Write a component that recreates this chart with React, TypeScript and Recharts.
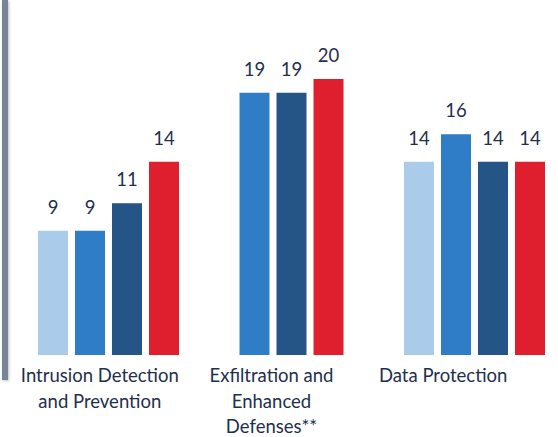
import React from 'react';
import { BarChart, Bar, XAxis, YAxis, Rectangle } from 'recharts';

const CATEGORIES = [
  'Intrusion Detection\nand Prevention',
  'Exfiltration and\nEnhanced\nDefenses**',
  'Data Protection',
];
const SERIES_A = [9, null, 14];
const SERIES_B = [9, 19, 16];
const SERIES_C = [11, 19, 14];
const SERIES_D = [14, 20, 14];

const SERIES = [
  { key: 'a', color: '#abcbea' },
  { key: 'b', color: '#307dc7' },
  { key: 'c', color: '#245586' },
  { key: 'd', color: '#df1f2d' },
] as const;

const data = CATEGORIES.map((name, i) => ({
  name,
  a: SERIES_A[i],
  b: SERIES_B[i],
  c: SERIES_C[i],
  d: SERIES_D[i],
}));

const BAR_GAP = 7;
const TEXT = '#1f2f4d';
const FONT = 'Lato, "Noto Sans", sans-serif';

// groups with a missing first bar are centred on the remaining three
const makeShape = (key: string) => (props: any) => {
  const { x, y, width, height, fill, payload } = props;
  const value = payload[key];
  if (value == null) return <g />;
  const shift = payload.a == null ? -(width + BAR_GAP) / 2 : 0;
  return (
    <g>
      <Rectangle x={x + shift} y={y} width={width} height={height} fill={fill} />
      <text
        x={x + shift + width / 2}
        y={y - 17}
        textAnchor="middle"
        fill={TEXT}
        fontSize={18.5}
        fontFamily={FONT}
      >
        {value}
      </text>
    </g>
  );
};

const LabelTick = (props: any) => {
  const { x, y, payload } = props;
  const lines = String(payload.value).split('\n');
  return (
    <text x={x} y={y} textAnchor="middle" fill={TEXT} fontSize={18.5} fontFamily={FONT}>
      {lines.map((line, i) => (
        <tspan key={i} x={x} dy={i === 0 ? 27 : 25.5}>
          {line}
        </tspan>
      ))}
    </text>
  );
};

export default function App() {
  return (
    <div
      style={{
        position: 'absolute',
        left: 0,
        top: 0,
        width: 558,
        height: 437,
        overflow: 'hidden',
        background: '#fff',
      }}
    >
      <div
        style={{
          position: 'absolute',
          left: 2,
          top: 0,
          width: 6,
          height: 380,
          background: '#778599',
          boxShadow: '1px 1px 3px rgba(0,0,0,0.25)',
        }}
      />
      <BarChart
        width={565}
        height={437}
        data={data}
        margin={{ top: 10, right: 0, left: 16, bottom: 0 }}
        barGap={BAR_GAP}
        barCategoryGap={22}
      >
        <XAxis xAxisId="bars" dataKey="name" hide height={0} />
        <XAxis
          xAxisId="labels"
          dataKey="name"
          height={82}
          axisLine={false}
          tickLine={false}
          tickSize={0}
          tickMargin={0}
          interval={0}
          padding={{ left: -2, right: 36 }}
          tick={<LabelTick />}
        />
        <YAxis hide domain={[0, 25]} />
        {SERIES.map(({ key, color }) => (
          <Bar
            key={key}
            xAxisId="bars"
            dataKey={key}
            fill={color}
            shape={makeShape(key)}
            isAnimationActive={false}
          />
        ))}
      </BarChart>
    </div>
  );
}
